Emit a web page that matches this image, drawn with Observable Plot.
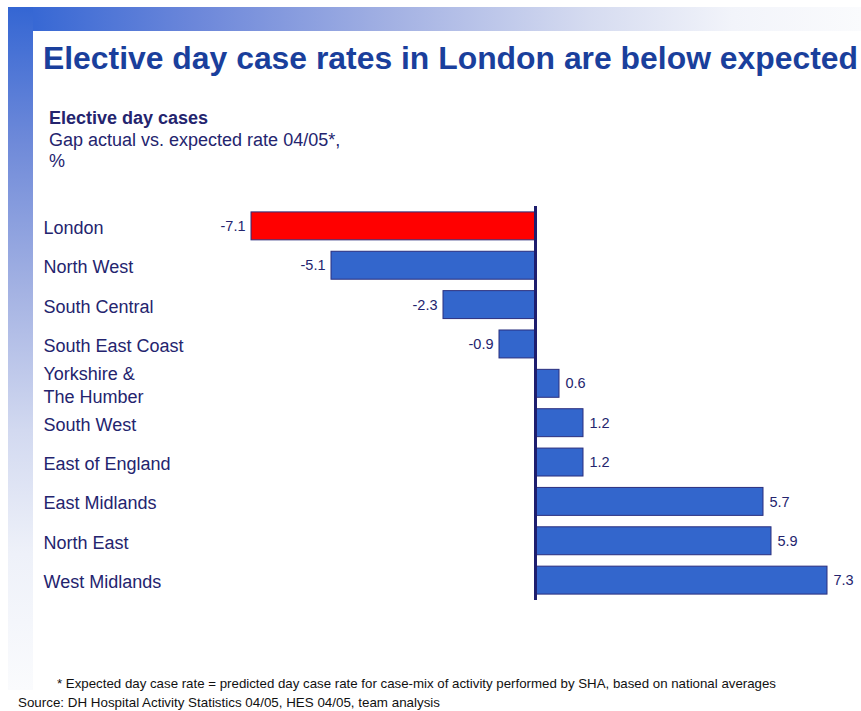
<!DOCTYPE html>
<html><head><meta charset="utf-8">
<script src="https://cdn.jsdelivr.net/npm/d3@7"></script>
<script src="https://cdn.jsdelivr.net/npm/@observablehq/plot@0.6"></script>
<style>
body{margin:0;background:#fff;}
#page{position:relative;width:861px;height:711px;overflow:hidden;font-family:Arial,"Liberation Sans",sans-serif;}
#topbar{position:absolute;left:8px;top:7px;width:853px;height:24px;background:linear-gradient(to right,#2f63d3 0%,#6c87da 22%,#a3b1e3 45%,#d5dbf0 68%,#f2f4fa 85%,#fafbfd 100%);}
#leftbar{position:absolute;left:8px;top:7px;width:25px;height:683px;background:linear-gradient(to bottom,#3466d3 0%,#6f8ad9 20%,#a5b3e3 42%,#d2d9f0 62%,#eef1f9 80%,#fafbfd 100%);}
#title{position:absolute;left:43px;top:42px;font-size:32px;line-height:32px;font-weight:bold;color:#1a3f9c;white-space:nowrap;transform-origin:0 0;}
#sub{position:absolute;left:49px;top:108px;font-size:18px;line-height:21.5px;color:#24246e;white-space:nowrap;}
#sub b{display:block;}
#chart{position:absolute;left:0;top:190px;line-height:0;}
#chart svg{display:block;}
.note{position:absolute;font-size:13px;line-height:15px;color:#111;white-space:nowrap;transform-origin:0 0;}
</style>
</head><body>
<div id="page">
  <div id="topbar"></div>
  <div id="leftbar"></div>
  <div id="title">Elective day case rates in London are below expected</div>
  <div id="sub"><b>Elective day cases</b>Gap actual vs. expected rate 04/05*,<br>%</div>
  <div id="chart"></div>
  <div class="note" id="n1" style="left:57px;top:676px;">* Expected day case rate = predicted day case rate for case-mix of activity performed by SHA, based on national averages</div>
  <div class="note" id="n2" style="left:18px;top:695px;">Source: DH Hospital Activity Statistics 04/05, HES 04/05, team analysis</div>
</div>
<script>
const regions = ["London","North West","South Central","South East Coast","Yorkshire &\nThe Humber","South West","East of England","East Midlands","North East","West Midlands"];
const gaps = [-7.1,-5.1,-2.3,-0.9,0.6,1.2,1.2,5.7,5.9,7.3];
const highlighted = "London";

const data = regions.map((r,i)=>({region:r, gap:gaps[i]}));
const navy = "#24246e";
const neg = data.filter(d => d.gap < 0);
const pos = data.filter(d => d.gap >= 0);

const chart = Plot.plot({
  width: 861,
  height: 422,
  marginLeft: 251,
  marginRight: 34,
  marginTop: 16,
  marginBottom: 12,
  style: {fontFamily: 'Arial, "Liberation Sans", sans-serif', background: "transparent", overflow: "visible"},
  x: {domain: [-7.1, 7.3], axis: null},
  y: {domain: regions, axis: null, paddingInner: 0.29, paddingOuter: 0.15, round: false},
  color: {type: "identity"},
  marks: [
    Plot.barX(data, {x: "gap", y: "region", fill: d => d.region === highlighted ? "#ff0000" : "#3366cc", stroke: "#2b2f7e", strokeWidth: 1}),
    Plot.ruleX([0], {stroke: "#1e1e6e", strokeWidth: 3}),
    Plot.text(neg, {x: "gap", y: "region", text: d => d.gap.toFixed(1), textAnchor: "end", dx: -6, fill: navy, fontSize: 14.5}),
    Plot.text(pos, {x: "gap", y: "region", text: d => d.gap.toFixed(1), textAnchor: "start", dx: 6, fill: navy, fontSize: 14.5}),
    Plot.text(data, {y: "region", text: "region", frameAnchor: "left", dx: -208, textAnchor: "start", fill: navy, fontSize: 18, lineHeight: 1.3})
  ]
});
document.getElementById("chart").appendChild(chart);

function fit(id, w){
  const el = document.getElementById(id);
  const cur = el.getBoundingClientRect().width;
  if (cur > 0) el.style.transform = `scaleX(${w/cur})`;
}
fit("title", 815);
fit("n1", 719);
fit("n2", 422);
</script>
</body></html>
